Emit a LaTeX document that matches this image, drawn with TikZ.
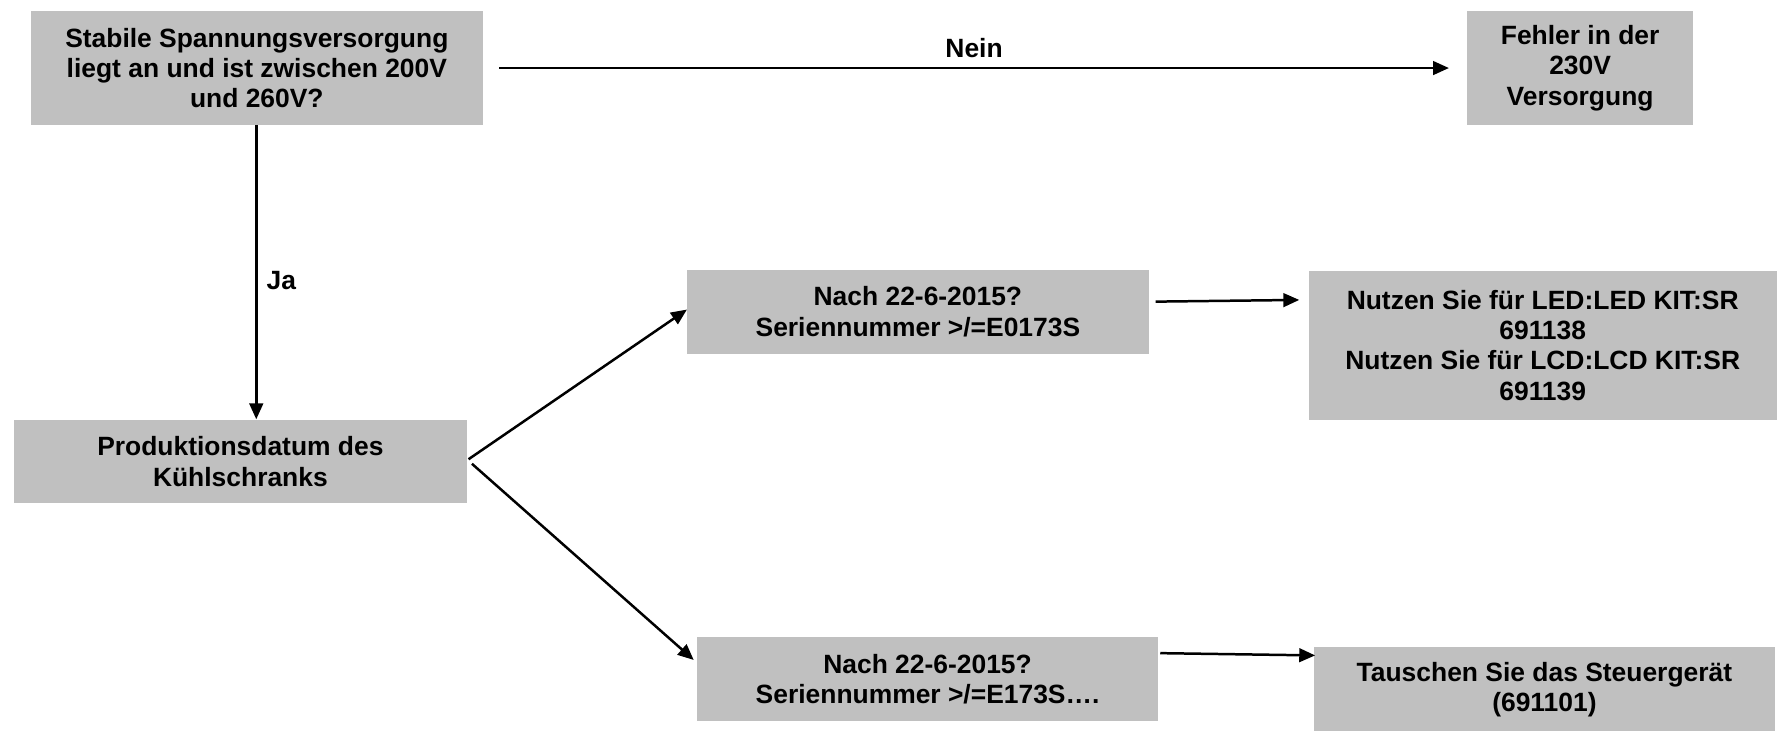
\documentclass[tikz,border=0pt]{standalone}
\usepackage{fontspec}
\setmainfont{Liberation Sans}
\usetikzlibrary{arrows.meta}
\definecolor{boxgrey}{HTML}{C0C0C0}
\begin{document}
\begin{tikzpicture}[x=1pt,y=-1pt,
  box/.style={fill=boxgrey, inner sep=0pt, align=center,
    font=\fontsize{23.3pt}{26.8pt}\selectfont\bfseries},
  lbl/.style={inner sep=0pt, font=\fontsize{23.3pt}{26.8pt}\selectfont\bfseries},
  conn/.style={line width=2.2pt, -{Triangle[length=14pt,width=12pt]}}]
\useasboundingbox[fill=white] (0,0) rectangle (1568,648);

\node[box, minimum width=399pt, minimum height=100pt] (A) at (226.5,60)
  {Stabile Spannungsversorgung\\liegt an und ist zwischen 200V\\und 260V?};
\node[box, minimum width=199pt, minimum height=100pt] (B) at (1393.5,60)
  {Fehler in der\\230V\\Versorgung};
\node[box, minimum width=400pt, minimum height=74pt] (C) at (212,407)
  {Produktionsdatum des\\Kühlschranks};
\node[box, minimum width=407pt, minimum height=74pt] (D) at (809.5,275)
  {Nach 22-6-2015?\\Seriennummer >/=E0173S};
\node[box, minimum width=413pt, minimum height=131pt] (E) at (1360.5,304.5)
  {Nutzen Sie für LED:LED KIT:SR\\691138\\Nutzen Sie für LCD:LCD KIT:SR\\691139};
\node[box, minimum width=406pt, minimum height=74pt] (F) at (818,599)
  {Nach 22-6-2015?\\Seriennummer >/=E173S….};
\node[box, minimum width=406pt, minimum height=74pt] (G) at (1362,608)
  {Tauschen Sie das Steuergerät\\(691101)};

\draw[conn] ([xshift=14pt]A.east) -- ([xshift=-16pt]B.west)
  node[lbl, midway, yshift=18pt] (nein) {Nein};
\draw[conn] ([xshift=-0.5pt]A.south) -- ([xshift=-0.5pt]A.south |- C.north)
  node[lbl, pos=0.53, anchor=west, xshift=8pt] (ja) {Ja};
\draw[conn] ([xshift=1pt,yshift=2pt]C.east) -- ([yshift=2pt]D.west);
\draw[conn] ([xshift=4pt,yshift=-2pt]C.east) -- ([xshift=-3pt,yshift=17pt]F.west);
\draw[conn] ([xshift=6pt,yshift=9pt]D.east) -- ([xshift=-8pt,yshift=40pt]E.west);
\draw[conn] ([xshift=2pt,yshift=23pt]F.east) -- ([xshift=1pt,yshift=30pt]G.west);
\end{tikzpicture}
\end{document}
